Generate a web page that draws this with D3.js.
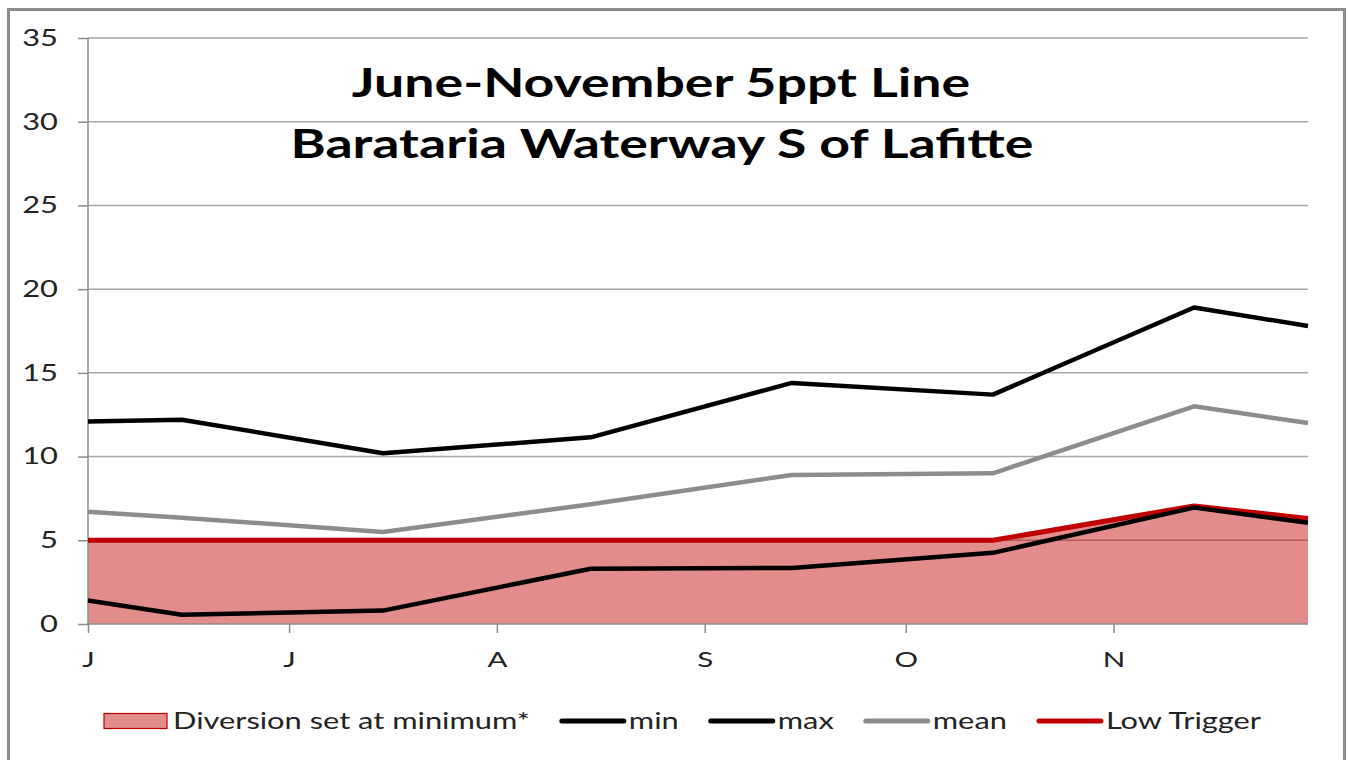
<!DOCTYPE html>
<html>
<head>
<meta charset="utf-8">
<script src="https://cdn.jsdelivr.net/npm/d3@7"></script>
<style>
  body { margin: 0; background: #fff; }
  svg { display: block; font-family: Lato, "Open Sans", sans-serif; }
</style>
</head>
<body>
<svg id="chart"></svg>
<script>
const width = 1348;
const height = 760;
// the reference text is drawn wide, so every label gets stretched sideways
const stretch = 1.34;

// data (ppt salinity)
const dates = ["2010-06-01", "2010-06-15", "2010-07-15", "2010-08-15", "2010-09-14", "2010-10-14", "2010-11-13", "2010-11-30"];
const minVals = [1.4, 0.55, 0.8, 3.3, 3.35, 4.25, 6.95, 6.05];
const maxVals = [12.1, 12.2, 10.2, 11.15, 14.4, 13.7, 18.9, 17.8];
const meanVals = [6.7, 6.35, 5.5, 7.15, 8.9, 9.0, 13.0, 12.0];
const lowTrigger = [5, 5, 5, 5, 5, 5, 7.05, 6.3];
const monthLabels = ["J", "J", "A", "S", "O", "N"];
const yTicks = [0, 5, 10, 15, 20, 25, 30, 35];
const titleLines = ["June-November 5ppt Line", "Barataria Waterway S of Lafitte"];

const parse = d3.timeParse("%Y-%m-%d");
const rows = dates.map((d, i) => ({
  date: parse(d),
  min: minVals[i],
  max: maxVals[i],
  mean: meanVals[i],
  low: lowTrigger[i]
}));

const margin = { top: 38, right: 40, bottom: 136, left: 88 };

const svg = d3.select("#chart")
  .attr("width", width)
  .attr("height", height);

// outer frame
svg.append("rect")
  .attr("x", 8.5)
  .attr("y", 9.5)
  .attr("width", 1336)
  .attr("height", 760)
  .attr("fill", "#fff")
  .attr("stroke", "#8c8c8c")
  .attr("stroke-width", 3);

const x = d3.scaleTime()
  .domain(d3.extent(rows, d => d.date))
  .range([margin.left, width - margin.right]);

const y = d3.scaleLinear()
  .domain([0, 35])
  .range([height - margin.bottom, margin.top]);

// gridlines
svg.append("g")
  .selectAll("line")
  .data(yTicks.slice(1))
  .enter()
  .append("line")
  .attr("x1", margin.left)
  .attr("x2", width - margin.right)
  .attr("y1", d => y(d))
  .attr("y2", d => y(d))
  .attr("stroke", "#a6a6a6")
  .attr("stroke-width", 1.5);

// shaded area under the low trigger
const area = d3.area()
  .x(d => x(d.date))
  .y0(y(0))
  .y1(d => y(d.low));

svg.append("path")
  .datum(rows)
  .attr("d", area)
  .attr("fill", "#c00000")
  .attr("fill-opacity", 0.45);

// widen axis labels around their own x position
function widen(g) {
  g.selectAll(".tick text").each(function() {
    const t = d3.select(this);
    const x0 = +t.attr("x") || 0;
    t.attr("x", x0 / stretch).attr("transform", `scale(${stretch},1)`);
  });
}

// y axis
const yAxis = d3.axisLeft(y)
  .tickValues(yTicks)
  .tickSize(10)
  .tickPadding(20);

svg.append("g")
  .attr("transform", `translate(${margin.left},0)`)
  .call(yAxis)
  .call(g => g.selectAll("line, path").attr("stroke", "#8c8c8c").attr("stroke-width", 1.5))
  .call(g => g.select(".domain").attr("d", `M0,${y(35)}V${y(0)}`))
  .call(g => g.selectAll("text")
    .attr("font-family", "Lato, sans-serif")
    .attr("font-size", 23)
    .attr("fill", "#222"))
  .call(widen);

// x axis, one tick per month
const monthTicks = d3.timeMonth.range(parse("2010-06-01"), parse("2010-11-30"));
const xAxis = d3.axisBottom(x)
  .tickValues(monthTicks)
  .tickSize(9)
  .tickPadding(18)
  .tickFormat((d, i) => monthLabels[i]);

svg.append("g")
  .attr("transform", `translate(0,${y(0)})`)
  .call(xAxis)
  .call(g => g.selectAll("line, path").attr("stroke", "#8c8c8c").attr("stroke-width", 1.5))
  .call(g => g.select(".domain").attr("d", `M${margin.left},0H${width - margin.right}`))
  .call(g => g.selectAll("text")
    .attr("font-family", "Lato, sans-serif")
    .attr("font-size", 22)
    .attr("fill", "#222"))
  .call(widen);

// series lines
const series = [
  { key: "mean", color: "#8c8c8c", w: 4.5 },
  { key: "low", color: "#c00000", w: 5 },
  { key: "min", color: "#000", w: 4.5 },
  { key: "max", color: "#000", w: 4.5 }
];

series.forEach(s => {
  const line = d3.line()
    .x(d => x(d.date))
    .y(d => y(d[s.key]));
  svg.append("path")
    .datum(rows)
    .attr("d", line)
    .attr("fill", "none")
    .attr("stroke", s.color)
    .attr("stroke-width", s.w)
    .attr("stroke-linejoin", "round");
});

// title
[[661, 97], [662, 158]].forEach(([tx, ty], i) => {
  svg.append("text")
    .attr("transform", `translate(${tx},${ty}) scale(${stretch},1)`)
    .attr("text-anchor", "middle")
    .style("font-size", "40px")
    .style("font-weight", "bold")
    .text(titleLines[i]);
});

// legend
const legendItems = [
  { label: "Diversion set at minimum*", type: "area" },
  { label: "min", type: "line", color: "#000" },
  { label: "max", type: "line", color: "#000" },
  { label: "mean", type: "line", color: "#8c8c8c" },
  { label: "Low Trigger", type: "line", color: "#c00000" }
];

const legend = svg.append("g");
let lx = 104;
const ly = 721;

legendItems.forEach(item => {
  if (item.type === "area") {
    legend.append("rect")
      .attr("x", lx)
      .attr("y", ly - 7.5)
      .attr("width", 63)
      .attr("height", 15)
      .attr("fill", "#c00000")
      .attr("fill-opacity", 0.45)
      .attr("stroke", "#c00000")
      .attr("stroke-width", 1.2);
    lx += 69;
  } else {
    legend.append("line")
      .attr("x1", lx + 2)
      .attr("x2", lx + 64)
      .attr("y1", ly)
      .attr("y2", ly)
      .attr("stroke", item.color)
      .attr("stroke-width", 5)
      .attr("stroke-linecap", "round");
    lx += 69;
  }
  const t = legend.append("text")
    .attr("transform", `translate(${lx},${ly + 8}) scale(${stretch},1)`)
    .style("font-size", "23px")
    .attr("fill", "#222")
    .text(item.label);
  lx += t.node().getComputedTextLength() * stretch + 30;
});
</script>
</body>
</html>
